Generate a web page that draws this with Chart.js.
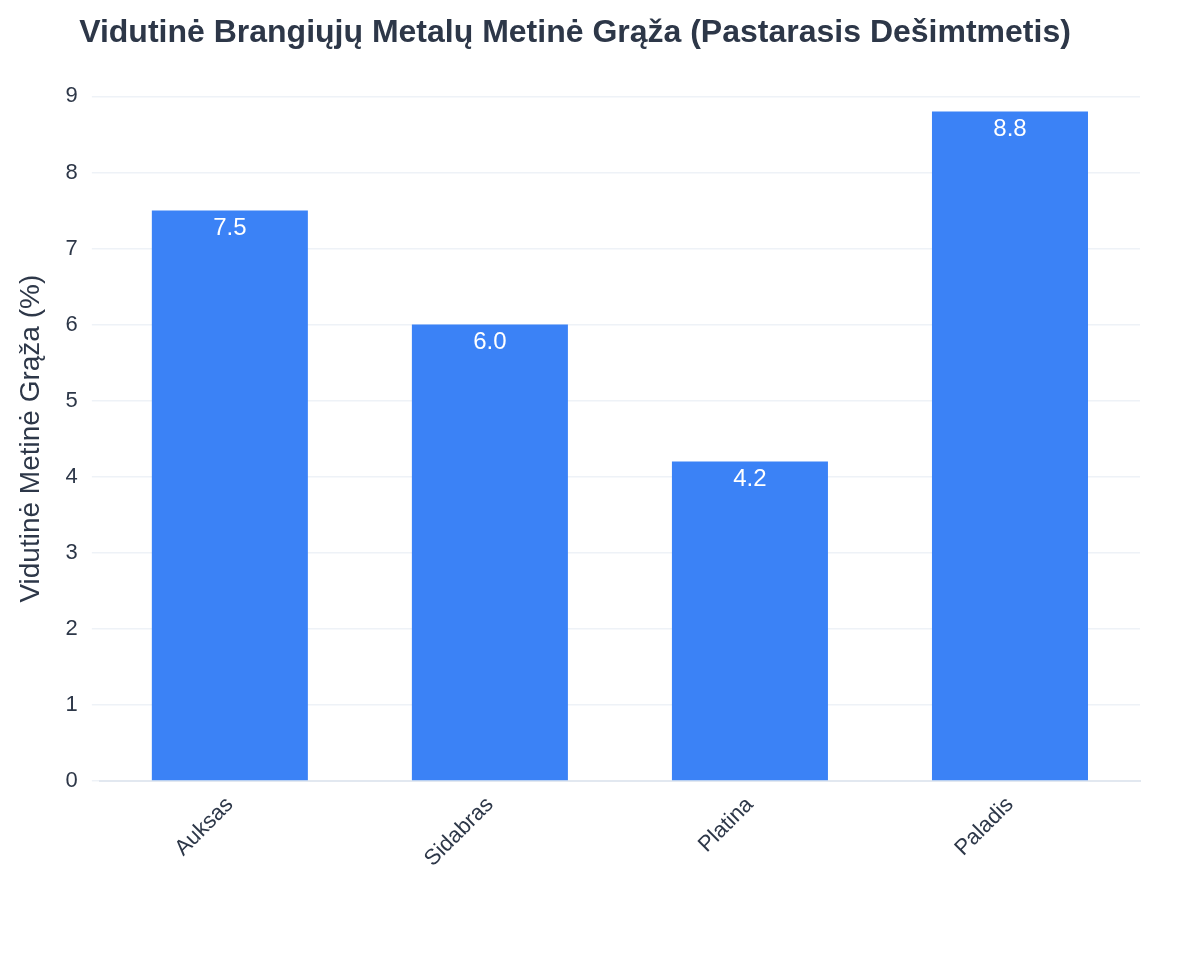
<!DOCTYPE html>
<html>
<head>
<meta charset="utf-8">
<script src="https://cdn.jsdelivr.net/npm/chart.js@4/dist/chart.umd.min.js"></script>
<style>
  html, body { margin: 0; padding: 0; background: #fff; }
  #wrap { width: 1200px; height: 975px; }
</style>
</head>
<body>
<div id="wrap"><canvas id="chart"></canvas></div>
<script>
const categories = ["Auksas", "Sidabras", "Platina", "Paladis"];
const returns = [7.5, 6.0, 4.2, 8.8];
const y_ticks = [0, 1, 2, 3, 4, 5, 6, 7, 8, 9];

const text_color = "#2d3748";

// value labels just under the top of each bar
const bar_labels = {
  id: "bar_labels",
  afterDatasetsDraw(chart) {
    const { ctx } = chart;
    const meta = chart.getDatasetMeta(0);
    ctx.save();
    ctx.fillStyle = "#ffffff";
    ctx.font = "24px 'Liberation Sans', Arial, sans-serif";
    ctx.textAlign = "center";
    ctx.textBaseline = "top";
    meta.data.forEach((bar, i) => {
      ctx.fillText(returns[i].toFixed(1), bar.x, bar.y + 6);
    });
    ctx.restore();
  },
};

new Chart(document.getElementById("chart"), {
  type: "bar",
  data: {
    labels: categories,
    datasets: [{
      data: returns,
      backgroundColor: "#3b82f6",
      categoryPercentage: 1,
      barPercentage: 0.6,
    }],
  },
  options: {
    responsive: true,
    maintainAspectRatio: false,
    animation: false,
    layout: { padding: { left: 10, right: 60, top: 10, bottom: 100 } },
    plugins: {
      legend: { display: false },
      tooltip: { enabled: false },
      title: {
        display: true,
        text: "Vidutinė Brangiųjų Metalų Metinė Grąža (Pastarasis Dešimtmetis)",
        color: text_color,
        font: { family: "'Liberation Sans', Arial, sans-serif", size: 32, weight: "bold" },
        padding: { top: 4, bottom: 44 },
      },
    },
    scales: {
      x: {
        grid: { display: false },
        border: { color: "#e2e8f0", width: 2 },
        ticks: {
          color: text_color,
          maxRotation: 45,
          minRotation: 45,
          font: { family: "'Liberation Sans', Arial, sans-serif", size: 22 },
        },
      },
      y: {
        min: 0,
        max: 9,
        afterBuildTicks(axis) { axis.ticks = y_ticks.map(v => ({ value: v })); },
        grid: { color: "#eef2f7", lineWidth: 1.5 },
        border: { display: false },
        ticks: {
          color: text_color,
          padding: 14,
          font: { family: "'Liberation Sans', Arial, sans-serif", size: 22 },
        },
        title: {
          display: true,
          text: "Vidutinė Metinė Grąža (%)",
          color: text_color,
          font: { family: "'Liberation Sans', Arial, sans-serif", size: 28 },
        },
      },
    },
  },
  plugins: [bar_labels],
});
</script>
</body>
</html>
